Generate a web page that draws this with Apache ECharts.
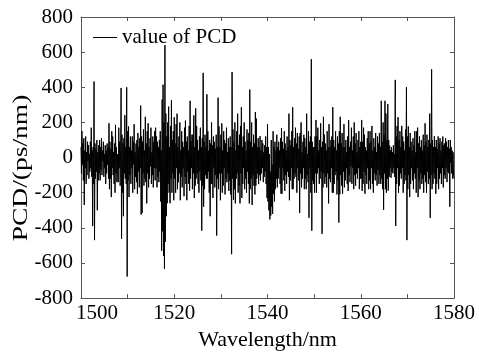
<!DOCTYPE html>
<html>
<head>
<meta charset="utf-8">
<script src="https://cdn.jsdelivr.net/npm/echarts@6/dist/echarts.min.js"></script>
<style>html,body{margin:0;padding:0;background:#fff}#c{width:479px;height:356px}</style>
</head>
<body>
<div id="c"></div>
<script>
// Wavelength grid (nm): start and step of the sampled points
const wavelengthStart = 1500;
const wavelengthStep = 0.1;
// PCD values (ps/nm), one per 0.1 nm from 1500.0 to 1580.0 (20 per row = 2 nm)
const pcdValues = [
  60, -90, 150, -40, 80, -130, 110, -270, 40, -60, 120, -150, 30, -100, 90, -20, 70, -120, 20, -80,
  90, -60, 170, -110, 40, -390, 60, -150, 433, -470, 80, -120, 50, -80, 100, -300, 30, -130, 70, -90,
  100, -130, 60, -70, 110, -100, 40, -20, 90, -110, 20, -60, 70, -150, 40, -90, 80, -40, 60, -120,
  195, -180, 90, -120, 50, -225, 150, -60, 120, -100, 30, -150, 80, -200, 186, -90, 60, -140, 20, -110,
  -140, 170, -60, 90, -160, 60, 396, -462, 130, -200, 80, -334, 110, -90, 241, -120, 60, -150, 400, -677,
  150, -130, 177, -225, 60, -100, 120, -150, 40, -60, 120, -200, 90, -40, 190, -180, 30, -110, 80, -140,
  100, -206, 140, -80, 60, -170, 110, -60, 296, -325, 120, -316, 90, -90, 160, -160, 40, -120, 232, -140,
  80, -261, 150, -90, 195, -170, 60, -120, 110, -50, 170, -150, 30, -100, 120, -170, 90, -60, 150, -130,
  170, -60, 120, -170, 90, -110, 60, -140, 100, -80, 150, -250, 40, -531, 330, -420, 415, -560, 200, -633,
  640, -480, 250, -334, 120, -260, 200, -150, 290, -200, 60, -260, 180, -120, 327, -200, 100, -90, 150, -243,
  230, -120, 80, -200, 190, -60, 250, -180, 60, -140, 120, -90, 200, -243, 40, -110, 150, -170, 90, -60,
  60, -220, 170, -110, 210, -150, 90, -243, 120, -80, 40, -150, 180, -190, 323, -120, 90, -60, 130, -180,
  130, -90, 240, -230, 60, -160, 280, -120, 180, -90, 100, -150, 40, -200, 120, -80, 170, -130, 60, -416,
  110, -160, 482, -280, 90, -180, 130, -100, 60, -120, 360, -120, 150, -80, 40, -200, 100, -334, 80, -150,
  200, -150, 70, -230, 120, -60, 90, -170, 50, -100, 130, -444, 60, -120, 341, -180, 177, -90, 60, -243,
  130, -90, 195, -200, 40, -160, 150, -60, 100, -210, 80, -120, 170, -140, 30, -90, 110, -190, 60, -130,
  120, -210, 60, -550, 487, -120, 160, -240, 90, -180, 200, -261, 40, -120, 150, -90, 250, -200, 70, -160,
  130, -261, 180, -90, 287, -230, 60, -150, 120, -60, 200, -180, 90, -120, 40, -200, 160, -80, 100, -150,
  140, -261, 387, -180, 90, -120, 200, -270, 60, -100, 130, -160, 80, -210, 259, -160, 222, -120, 60, -90,
  110, -151, 60, -100, 122, -130, 40, -90, 100, -60, 80, -140, 30, -110, 70, -80, 120, -150, 60, -230,
  190, -250, 60, -300, 20, -352, -80, -330, 100, -280, -40, -320, 150, -206, 60, -250, 90, -180, 40, -120,
  130, -170, 60, -120, 90, -60, 40, -150, 110, -206, 168, -206, 90, -60, 50, -130, 150, -190, 80, -100,
  40, -150, 120, -80, 60, -110, 250, -243, 100, -130, 70, -60, 150, -180, 287, -180, 60, -120, 110, -90,
  170, -110, 80, -200, 140, -60, 50, -130, 120, -316, 140, -90, 200, -170, 30, -120, 90, -60, 130, -180,
  110, -120, 60, -180, 250, -100, 20, -140, 150, -343, 90, -60, 120, -200, 560, -416, 90, -130, 60, -150,
  60, -200, 120, -90, 214, -200, 120, -90, 170, -60, 40, -150, 100, -120, 195, -80, 60, -434, 90, -170,
  232, -90, 130, -150, 80, -110, 40, -170, 150, -90, 60, -261, 190, -120, 60, -140, 100, -60, 120, -200,
  287, -200, 100, -150, 60, -100, 150, -80, 40, -210, 120, -130, 80, -370, 150, -210, 232, -100, 80, -160,
  140, -206, 60, -80, 190, -170, 60, -130, 100, -60, 30, -150, 120, -190, 213, -100, 60, -140, 90, -50,
  170, -150, 40, -60, 120, -180, 200, -100, 80, -160, 140, -90, 30, -120, 100, -60, 150, -180, 60, -120,
  90, -120, 214, -190, 90, -150, 170, -80, 130, -206, 60, -100, 40, -150, 110, -60, 150, -180, 80, -130,
  150, -180, 90, -60, 180, -150, 40, -200, 110, -90, 60, -130, 140, -100, 30, -160, 120, -70, 80, -150,
  140, -100, 60, -150, 323, -120, 90, -180, 200, -298, 130, -90, 323, -180, 250, -200, 100, -120, 305, -188,
  100, -110, 68, -60, 40, -115, 60, -80, 30, -90, 70, -60, 20, -110, 442, -389, 120, -150, 180, -60,
  230, -200, 100, -160, 150, -90, 60, -120, 180, -60, 120, -200, 90, -150, 40, -100, 160, -130, 400, -470,
  120, -180, 177, -100, 60, -225, 140, -150, 90, -60, 40, -130, 110, -180, 70, -90, 150, -120, 30, -200,
  150, -60, 170, -225, 80, -130, 120, -180, 60, -90, 100, -150, 40, -120, 130, -200, 70, -100, 195, -140,
  90, -200, 130, -80, 60, -150, 100, -120, 250, -343, 80, -100, 502, -180, 100, -150, 60, -90, 122, -120,
  60, -206, 100, -150, 50, -60, 120, -180, 80, -120, 110, -90, 40, -150, 90, -60, 120, -170, 70, -100,
  80, -120, 110, -60, 90, -140, 60, -80, 100, -90, 50, -280, 100, -30, 60, -90, 40, -120, 30, -100,
  -120
];
const xTicks = [1500, 1520, 1540, 1560, 1580];
const yTicks = [-800, -600, -400, -200, 0, 200, 400, 600, 800];
const seriesName = 'value of PCD';
const xTitle = 'Wavelength/nm';
const yTitle = 'PCD/(ps/nm)';

const points = pcdValues.map((v, i) => [+(wavelengthStart + i * wavelengthStep).toFixed(1), v]);

const FONT = 'Liberation Serif';
const axisColor = '#555';
const chart = echarts.init(document.getElementById('c'), null, {renderer: 'canvas'});
chart.setOption({
  animation: false,
  backgroundColor: '#fff',
  grid: {left: 81, right: 25, top: 17, bottom: 47, containLabel: false},
  legend: {
    left: 88, top: 22,
    icon: 'rect', itemWidth: 24, itemHeight: 1, itemGap: 6,
    textStyle: {fontFamily: FONT, fontSize: 21, color: '#000'},
    data: [seriesName]
  },
  graphic: [{
    type: 'text', x: 21, y: 168, rotation: Math.PI / 2, scaleX: 1.25,
    style: {text: yTitle, fontFamily: FONT, fontSize: 22, fill: '#000', align: 'center', verticalAlign: 'middle'}
  }],
  xAxis: [{
    type: 'value', min: xTicks[0], max: xTicks[xTicks.length - 1], interval: 20,
    name: xTitle, nameLocation: 'middle', nameGap: 25,
    nameTextStyle: {fontFamily: FONT, fontSize: 22, color: '#000'},
    axisLine: {show: true, onZero: false, lineStyle: {color: axisColor, width: 1}},
    axisTick: {show: true, inside: true, length: 4, lineStyle: {color: axisColor}},
    minorTick: {show: true, splitNumber: 2, length: 4, lineStyle: {color: axisColor}},
    axisLabel: {
      fontFamily: FONT, fontSize: 21, color: '#000', margin: 5,
      formatter: v => (v === xTicks[0] ? '{first|' + v + '}' : String(v)),
      rich: {first: {fontFamily: FONT, fontSize: 21, color: '#000', padding: [0, 0, 0, 32]}}
    },
    splitLine: {show: false}
  }, {
    type: 'value', position: 'top', min: xTicks[0], max: xTicks[xTicks.length - 1], interval: 20,
    axisLine: {show: true, onZero: false, lineStyle: {color: axisColor, width: 1}},
    axisTick: {show: true, inside: true, length: 4, lineStyle: {color: axisColor}},
    minorTick: {show: true, splitNumber: 2, length: 4, lineStyle: {color: axisColor}},
    axisLabel: {show: false}, splitLine: {show: false}
  }],
  yAxis: [{
    type: 'value', min: yTicks[0], max: yTicks[yTicks.length - 1], interval: 200,
    axisLine: {show: true, onZero: false, lineStyle: {color: axisColor, width: 1}},
    axisTick: {show: true, inside: true, length: 4, lineStyle: {color: axisColor}},
    axisLabel: {fontFamily: FONT, fontSize: 21, color: '#000', margin: 8},
    splitLine: {show: false}
  }, {
    type: 'value', position: 'right', min: yTicks[0], max: yTicks[yTicks.length - 1], interval: 200,
    axisLine: {show: true, onZero: false, lineStyle: {color: axisColor, width: 1}},
    axisTick: {show: true, inside: true, length: 4, lineStyle: {color: axisColor}},
    axisLabel: {show: false}, splitLine: {show: false}
  }],
  series: [{
    name: seriesName, type: 'line', data: points,
    xAxisIndex: 0, yAxisIndex: 0,
    showSymbol: false, symbol: 'none', sampling: null,
    lineStyle: {color: '#000', width: 1},
    itemStyle: {color: '#000'}
  }]
});
</script>
</body>
</html>
